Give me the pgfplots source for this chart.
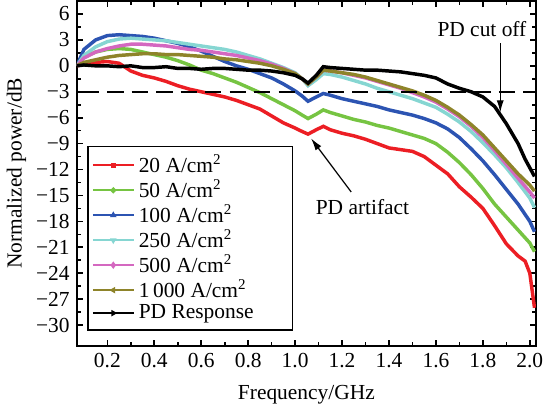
\documentclass[border=0pt]{standalone}
\usepackage{fontspec}
\setmainfont{Liberation Serif}
\usepackage{pgfplots}
\pgfplotsset{compat=1.18}
\usetikzlibrary{arrows.meta}

\definecolor{cRed}{RGB}{236,30,36}
\definecolor{cGreen}{RGB}{118,196,66}
\definecolor{cBlue}{RGB}{44,84,178}
\definecolor{cCyan}{RGB}{134,214,210}
\definecolor{cMag}{RGB}{212,104,192}
\definecolor{cOlive}{RGB}{142,132,42}
\newcommand\fs{\fontsize{10.5}{12.6}\selectfont}

\begin{document}
\begin{tikzpicture}
\begin{axis}[
  width=225pt, height=169pt, scale only axis,
  xmin=0.07, xmax=2.026, ymin=-32.4, ymax=7.5,
  xtick={0.2,0.4,0.6,0.8,1.0,1.2,1.4,1.6,1.8,2.0},
  xticklabels={0.2,0.4,0.6,0.8,1.0,1.2,1.4,1.6,1.8,2.0},
  ytick={-30,-27,-24,-21,-18,-15,-12,-9,-6,-3,0,3,6},
  yticklabels={−30,−27,−24,−21,−18,−15,−12,−9,−6,−3,0,3,6},
  minor x tick num=1, minor y tick num=1,
  tick align=inside,
  major tick length=3pt, minor tick length=1.8pt,
  every tick/.style={black, line width=0.8pt},
  axis line style={line width=1pt},
  ticklabel style={font=\fs},
  xlabel={Frequency/GHz}, ylabel={Normalized power/dB},
  label style={font=\fs},
  xlabel style={yshift=-2pt},
  ylabel style={yshift=-2pt},
  legend cell align=left,
  legend style={font=\fs, at={(0.022,0.044)}, anchor=south west,
    draw=black, line width=0.8pt, row sep=-2.1pt, inner sep=2pt},
  legend image code/.code={\draw[#1,line width=1pt,mark repeat=2,mark phase=2]
    plot coordinates {(0pt,0pt) (10pt,0pt) (20pt,0pt)};},
  every axis plot/.append style={line width=1.7pt, mark repeat=500, mark phase=500},
]
\addplot[cRed, mark=square*, mark options={solid,scale=0.4}] coordinates {
(0.07,0.0)(0.1,0.2)(0.15,0.4)(0.2,0.5)(0.25,0.3)(0.3,-0.6)(0.35,-1.1)(0.4,-1.4)
(0.45,-1.8)(0.5,-2.3)(0.55,-2.7)(0.6,-3.0)(0.65,-3.3)(0.7,-3.6)(0.75,-4.0)
(0.8,-4.5)(0.85,-5.0)(0.9,-5.8)(0.95,-6.6)(1.0,-7.2)(1.03,-7.6)(1.055,-7.9)
(1.09,-7.4)(1.12,-7.0)(1.15,-7.4)(1.2,-7.8)(1.25,-8.1)(1.3,-8.5)(1.35,-9.0)
(1.4,-9.5)(1.45,-9.7)(1.5,-9.9)(1.55,-10.5)(1.6,-11.5)(1.65,-12.5)(1.7,-14.0)
(1.75,-15.2)(1.8,-16.5)(1.85,-18.5)(1.9,-20.6)(1.95,-22.0)(1.98,-22.6)
(2.0,-24.0)(2.01,-26.0)(2.02,-28.0)};
\addlegendentry{20 A/cm\textsuperscript{2}}
\addplot[cGreen, mark=*, mark options={solid,scale=0.45}] coordinates {
(0.07,0.0)(0.1,1.0)(0.15,1.6)(0.2,1.9)(0.25,2.0)(0.3,1.9)(0.35,1.6)(0.4,1.3)
(0.45,1.0)(0.5,0.6)(0.55,0.1)(0.6,-0.5)(0.65,-0.9)(0.7,-1.4)(0.75,-1.9)
(0.8,-2.5)(0.85,-3.1)(0.9,-3.8)(0.95,-4.5)(1.0,-5.2)(1.03,-5.7)(1.055,-6.1)
(1.09,-5.6)(1.12,-5.1)(1.15,-5.4)(1.2,-5.8)(1.25,-6.2)(1.3,-6.5)(1.35,-6.9)
(1.4,-7.2)(1.45,-7.6)(1.5,-8.0)(1.55,-8.4)(1.6,-9.0)(1.65,-10.0)(1.7,-11.2)
(1.75,-12.6)(1.8,-14.2)(1.85,-16.0)(1.9,-17.5)(1.95,-19.0)(2.0,-20.5)(2.02,-21.5)};
\addlegendentry{50 A/cm\textsuperscript{2}}
\addplot[cBlue, mark=triangle*, mark options={solid,scale=0.45}] coordinates {
(0.07,0.0)(0.1,1.9)(0.15,3.0)(0.2,3.5)(0.25,3.6)(0.3,3.5)(0.35,3.4)(0.4,3.2)
(0.45,2.9)(0.5,2.6)(0.55,2.2)(0.6,1.7)(0.65,1.1)(0.7,0.5)(0.75,0.0)
(0.8,-0.4)(0.85,-0.9)(0.9,-1.4)(0.95,-2.1)(1.0,-2.9)(1.03,-3.5)(1.055,-4.1)
(1.09,-3.6)(1.12,-3.2)(1.15,-3.4)(1.2,-3.8)(1.25,-4.1)(1.3,-4.4)(1.35,-4.7)
(1.4,-5.1)(1.45,-5.4)(1.5,-5.7)(1.55,-6.1)(1.6,-6.6)(1.65,-7.3)(1.7,-8.3)
(1.75,-9.6)(1.8,-11.0)(1.85,-12.6)(1.9,-14.3)(1.95,-16.0)(2.0,-18.0)(2.02,-19.2)};
\addlegendentry{100 A/cm\textsuperscript{2}}
\addplot[cCyan, mark=triangle*, mark options={solid,scale=0.45,rotate=180}] coordinates {
(0.07,0.0)(0.1,1.2)(0.15,2.2)(0.2,2.8)(0.25,3.1)(0.3,3.2)(0.35,3.1)(0.4,3.0)
(0.45,2.9)(0.5,2.7)(0.55,2.5)(0.6,2.3)(0.65,2.1)(0.7,1.9)(0.75,1.6)
(0.8,1.2)(0.85,0.8)(0.9,0.3)(0.95,-0.2)(1.0,-0.8)(1.03,-1.5)(1.055,-2.3)
(1.09,-1.6)(1.12,-0.9)(1.15,-1.0)(1.2,-1.3)(1.25,-1.7)(1.3,-2.1)(1.35,-2.6)
(1.4,-3.0)(1.45,-3.4)(1.5,-3.8)(1.55,-4.3)(1.6,-4.8)(1.65,-5.6)(1.7,-6.5)
(1.75,-7.6)(1.8,-8.9)(1.85,-10.3)(1.9,-11.8)(1.95,-13.5)(2.0,-15.3)(2.02,-16.4)};
\addlegendentry{250 A/cm\textsuperscript{2}}
\addplot[cMag, mark=diamond*, mark options={solid,scale=0.5}] coordinates {
(0.07,0.0)(0.1,0.9)(0.15,1.6)(0.2,2.0)(0.25,2.3)(0.3,2.5)(0.35,2.5)(0.4,2.4)
(0.45,2.3)(0.5,2.1)(0.55,1.9)(0.6,1.8)(0.65,1.6)(0.7,1.4)(0.75,1.2)
(0.8,0.9)(0.85,0.6)(0.9,0.2)(0.95,-0.3)(1.0,-0.9)(1.03,-1.5)(1.055,-2.1)
(1.09,-1.3)(1.12,-0.5)(1.15,-0.6)(1.2,-0.8)(1.25,-1.1)(1.3,-1.4)(1.35,-1.8)
(1.4,-2.2)(1.45,-2.6)(1.5,-3.1)(1.55,-3.6)(1.6,-4.2)(1.65,-5.0)(1.7,-5.9)
(1.75,-7.0)(1.8,-8.3)(1.85,-9.8)(1.9,-11.4)(1.95,-13.0)(2.0,-14.6)(2.02,-15.3)};
\addlegendentry{500 A/cm\textsuperscript{2}}
\addplot[cOlive, mark=triangle*, mark options={solid,scale=0.45,rotate=90}] coordinates {
(0.07,0.0)(0.1,0.4)(0.15,0.7)(0.2,1.0)(0.25,1.2)(0.3,1.3)(0.35,1.4)(0.4,1.4)
(0.45,1.3)(0.5,1.3)(0.55,1.2)(0.6,1.1)(0.65,1.0)(0.7,0.8)(0.75,0.7)
(0.8,0.5)(0.85,0.3)(0.9,0.0)(0.95,-0.4)(1.0,-0.9)(1.03,-1.5)(1.055,-2.1)
(1.09,-1.3)(1.12,-0.5)(1.15,-0.6)(1.2,-0.8)(1.25,-1.0)(1.3,-1.3)(1.35,-1.7)
(1.4,-2.1)(1.45,-2.5)(1.5,-2.9)(1.55,-3.4)(1.6,-4.0)(1.65,-4.8)(1.7,-5.7)
(1.75,-6.8)(1.8,-8.0)(1.85,-9.5)(1.9,-11.0)(1.95,-12.5)(2.0,-13.8)(2.02,-14.5)};
\addlegendentry{1\,000 A/cm\textsuperscript{2}}
\addplot[black, mark=triangle*, mark options={solid,scale=0.45,rotate=-90}] coordinates {
(0.07,0.0)(0.1,0.1)(0.15,0.0)(0.2,0.0)(0.25,-0.1)(0.3,0.0)(0.35,-0.2)(0.4,-0.2)
(0.45,-0.1)(0.5,-0.3)(0.55,-0.3)(0.6,-0.4)(0.65,-0.3)(0.7,-0.3)(0.75,-0.4)
(0.8,-0.5)(0.85,-0.5)(0.9,-0.6)(0.95,-0.8)(1.0,-1.1)(1.03,-1.5)(1.055,-2.0)
(1.09,-1.1)(1.12,-0.1)(1.15,-0.2)(1.2,-0.3)(1.25,-0.4)(1.3,-0.5)(1.35,-0.5)
(1.4,-0.6)(1.45,-0.7)(1.5,-0.9)(1.55,-1.1)(1.6,-1.4)(1.65,-2.1)(1.7,-2.6)
(1.75,-3.0)(1.8,-3.6)(1.85,-4.7)(1.9,-6.7)(1.95,-9.0)(1.98,-10.8)(2.0,-11.8)(2.02,-12.8)};
\addlegendentry{PD Response\hspace*{15pt}}
\addplot[black, line width=1pt, dash pattern=on 8pt off 4pt, forget plot]
  coordinates {(0.095,-3)(2.026,-3)};
\node[font=\fs] at (axis cs:1.796,4.2) {PD cut off};
\draw[-{Latex[length=6pt,width=3.5pt]}, line width=0.6pt]
  (axis cs:1.874,2.6) -- (axis cs:1.874,-5.4);
\node[font=\fs] at (axis cs:1.287,-16.3) {PD artifact};
\draw[-{Latex[length=6pt,width=3.5pt]}, line width=0.6pt]
  (axis cs:1.239,-14.6) -- (axis cs:1.068,-8.4);
\end{axis}
\end{tikzpicture}
\end{document}
